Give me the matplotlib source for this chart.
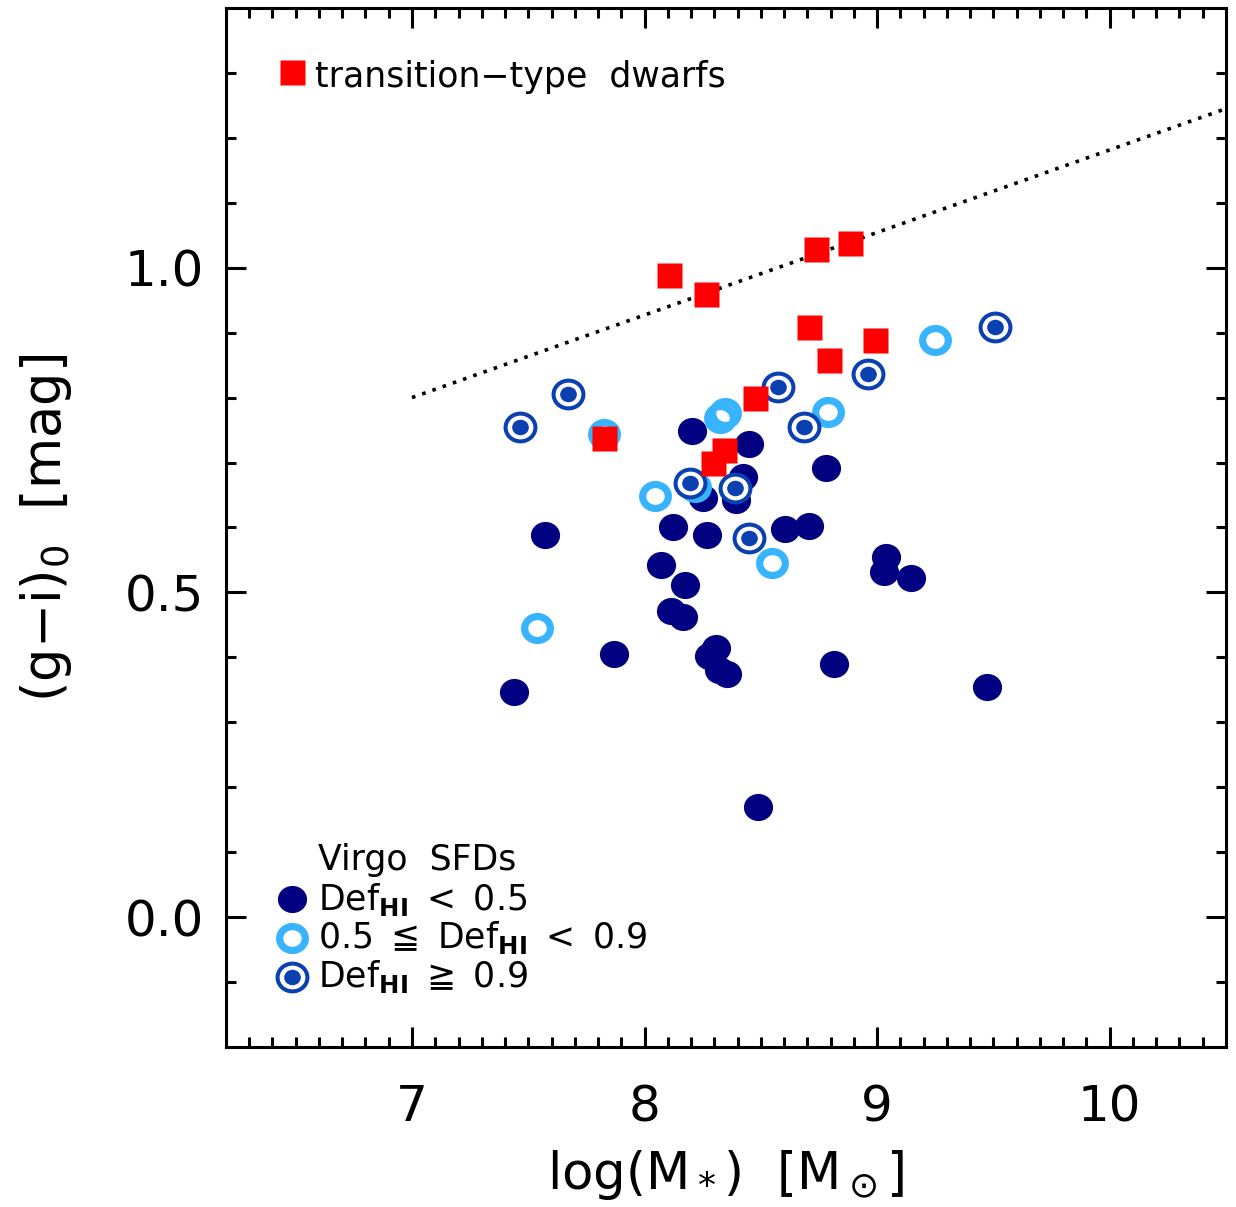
"""
Colour-mass diagram of Virgo star-forming dwarfs and transition-type dwarfs.
"""
import numpy as np
import matplotlib
matplotlib.use('Agg')
import matplotlib.pyplot as plt
from matplotlib.path import Path

# Virgo SFDs, Def_HI < 0.5
low_x = [8.206, 8.451, 8.781, 8.425, 8.253, 8.395, 7.571, 8.124, 8.270, 8.605,
         8.708, 8.069, 8.176, 9.039, 9.030, 9.146, 8.112, 8.167, 7.867, 8.309,
         8.275, 8.356, 8.318, 8.815, 7.438, 8.489, 9.472]
low_y = [0.748, 0.729, 0.691, 0.678, 0.646, 0.642, 0.589, 0.600, 0.588, 0.598,
         0.603, 0.542, 0.511, 0.554, 0.532, 0.522, 0.471, 0.462, 0.405, 0.414,
         0.402, 0.375, 0.380, 0.389, 0.346, 0.169, 0.355]

# 0.5 <= Def_HI < 0.9
mid_x = [8.326, 8.345, 8.790, 8.043, 7.824, 9.249, 8.219, 8.549, 7.536]
mid_y = [0.769, 0.776, 0.778, 0.649, 0.744, 0.888, 0.662, 0.546, 0.445]

# Def_HI >= 0.9
high_x = [7.464, 7.670, 8.575, 8.961, 8.687, 8.197, 8.391, 8.451, 9.506]
high_y = [0.755, 0.806, 0.817, 0.837, 0.755, 0.669, 0.660, 0.583, 0.909]

# transition-type dwarfs
tr_x = [8.103, 8.266, 8.738, 8.884, 8.708, 8.991, 8.794, 8.476, 7.824, 8.343, 8.296]
tr_y = [0.989, 0.960, 1.029, 1.038, 0.909, 0.889, 0.858, 0.800, 0.738, 0.720, 0.700]

# dotted relation
line_x = [7.0, 10.5]
line_y = [0.80, 1.245]

c_navy = '#000080'
c_light = '#38b4ff'
c_blue = '#0a40b0'
c_red = '#ff0000'

# slightly flattened circle, like the IDL symbols
uc = Path.unit_circle()
ell = Path(uc.vertices * np.array([1.0, 0.93]), uc.codes)

fig, ax = plt.subplots(figsize=(12.36, 12.07), dpi=100)
fig.subplots_adjust(left=0.1828, right=0.9919, bottom=0.1326, top=0.9934)

ax.plot(line_x, line_y, color='black', lw=2.6, dashes=(1.0, 2.0))

ax.plot(low_x, low_y, ls='none', marker=ell, ms=21, mfc=c_navy, mec='none')
ax.plot(mid_x, mid_y, ls='none', marker=ell, ms=18.5, mfc='none', mec=c_light, mew=5.2)
ax.plot(high_x, high_y, ls='none', marker=ell, ms=21.5, mfc='white', mec=c_blue, mew=2.9)
ax.plot(high_x, high_y, ls='none', marker=ell, ms=12, mfc=c_blue, mec='none')
ax.plot(tr_x, tr_y, ls='none', marker='s', ms=18, mfc=c_red, mec='none')

ax.set_xlim(6.2, 10.5)
ax.set_ylim(-0.2, 1.4)
ax.set_xticks([7, 8, 9, 10])
ax.set_xticks(np.arange(6.3, 10.5, 0.1), minor=True)
ax.set_yticks([0.0, 0.5, 1.0])
ax.set_yticklabels(['0.0', '0.5', '1.0'])
ax.set_yticks(np.arange(-0.1, 1.4, 0.1), minor=True)

ax.tick_params(which='both', direction='in', top=True, right=True, width=2.2,
               labelsize=36)
ax.tick_params(which='major', length=14.4)
ax.tick_params(which='minor', length=7.2)
ax.tick_params(axis='x', pad=26)
ax.tick_params(axis='y', pad=16)
for sp in ax.spines.values():
    sp.set_linewidth(2.2)

ax.set_xlabel(r'log(M$_*$)  [M$_\odot$]', fontsize=37, labelpad=12)
ax.set_ylabel('(g\u2212i)$_0$  [mag]', fontsize=38, labelpad=36)

# legends drawn by hand in axes fraction
tf = ax.transAxes
ax.plot([0.066], [0.9384], transform=tf, ls='none', marker='s', ms=18,
        mfc=c_red, mec='none', clip_on=False)
ax.text(0.089, 0.934, 'transition\u2212type  dwarfs', transform=tf,
        fontsize=25, va='center', ha='left')

sp2 = '\u2002'
ax.text(0.092, 0.180, 'Virgo  SFDs', transform=tf, fontsize=25, va='center')
rows = [0.1424, 0.1049, 0.0674]
ax.plot([0.066], [rows[0]], transform=tf, ls='none', marker=ell, ms=21,
        mfc=c_navy, mec='none')
ax.plot([0.066], [rows[1]], transform=tf, ls='none', marker=ell, ms=18.5,
        mfc='none', mec=c_light, mew=5.2)
ax.plot([0.066], [rows[2]], transform=tf, ls='none', marker=ell, ms=21.5,
        mfc='white', mec=c_blue, mew=2.9)
ax.plot([0.066], [rows[2]], transform=tf, ls='none', marker=ell, ms=12,
        mfc=c_blue, mec='none')
ax.text(0.092, rows[0], 'Def$_{\\mathbf{HI}}$' + sp2 + '<' + sp2 + '0.5',
        transform=tf, fontsize=25, va='center')
ax.text(0.092, rows[1], '0.5' + sp2 + '\u2266' + sp2 + 'Def$_{\\mathbf{HI}}$'
        + sp2 + '<' + sp2 + '0.9', transform=tf, fontsize=25, va='center')
ax.text(0.092, rows[2], 'Def$_{\\mathbf{HI}}$' + sp2 + '\u2267' + sp2 + '0.9',
        transform=tf, fontsize=25, va='center')

plt.savefig('out.png', dpi=100)
